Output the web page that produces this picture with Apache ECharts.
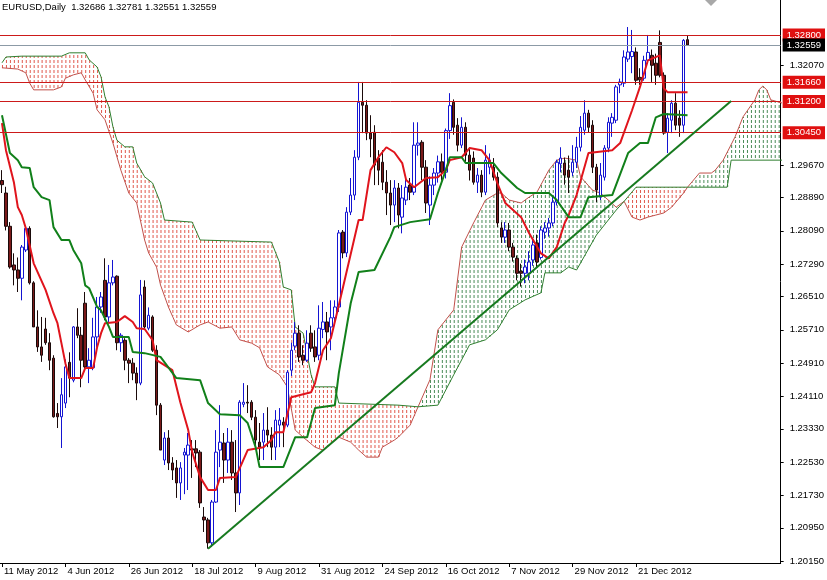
<!DOCTYPE html>
<html><head><meta charset="utf-8">
<script src="https://cdn.jsdelivr.net/npm/echarts@6/dist/echarts.min.js"></script>
<style>html,body{margin:0;padding:0;background:#fff}#c{width:827px;height:580px}</style>
</head><body><div id="c"></div>
<script>
// ---- Candles (index 0 = 11 May 2012, daily bars) ----
const openP = [1.2930,1.2900,1.2820,1.2727,1.2715,1.2695,1.2763,1.2815,1.2684,1.2578,1.2530,1.2573,1.2540,1.2503,1.2370,1.2362,1.2395,1.2493,1.2450,1.2578,1.2558,1.2635,1.2482,1.2480,1.2554,1.2626,1.2690,1.2602,1.2684,1.2700,1.2540,1.2546,1.2498,1.2491,1.2467,1.2443,1.2674,1.2575,1.2602,1.2522,1.2390,1.2258,1.2311,1.2251,1.2239,1.2203,1.2270,1.2270,1.2285,1.2285,1.2277,1.2121,1.2114,1.2059,1.2157,1.2282,1.2299,1.2258,1.2301,1.2227,1.2179,1.2392,1.2397,1.2397,1.2361,1.2301,1.2301,1.2330,1.2318,1.2289,1.2342,1.2349,1.2342,1.2474,1.2532,1.2563,1.2510,1.2498,1.2563,1.2530,1.2510,1.2572,1.2590,1.2578,1.2600,1.2626,1.2806,1.2756,1.2854,1.2895,1.2986,1.3118,1.3111,1.3044,1.3046,1.2984,1.2974,1.2926,1.2900,1.2871,1.2912,1.2842,1.2883,1.2919,1.2902,1.3015,1.3022,1.2962,1.2871,1.2919,1.2948,1.2975,1.2950,1.3050,1.3118,1.3063,1.3015,1.3058,1.2991,1.2984,1.2926,1.2943,1.2902,1.2962,1.2962,1.2938,1.2816,1.2794,1.2811,1.2770,1.2743,1.2712,1.2707,1.2707,1.2739,1.2780,1.2745,1.2806,1.2816,1.2828,1.2878,1.2970,1.2972,1.2955,1.2950,1.2974,1.3010,1.3051,1.3092,1.3063,1.2962,1.2890,1.2938,1.3008,1.3068,1.3075,1.3160,1.3164,1.3222,1.3228,1.3239,1.3178,1.3176,1.3219,1.3231,1.3212,1.3262,1.3183,1.3046,1.3075,1.3116,1.3080,1.3063,1.32686];
const highP = [1.2955,1.2915,1.2830,1.2755,1.2745,1.2775,1.2820,1.2820,1.2688,1.2618,1.2602,1.2600,1.2563,1.2510,1.2395,1.2455,1.2500,1.2517,1.2580,1.2623,1.2578,1.2662,1.2527,1.2600,1.2650,1.2662,1.2743,1.2727,1.2739,1.2702,1.2563,1.2551,1.2503,1.2503,1.2481,1.2691,1.2690,1.2625,1.2606,1.2534,1.2395,1.2325,1.2330,1.2265,1.2258,1.2253,1.2287,1.2323,1.2306,1.2306,1.2282,1.2145,1.2119,1.2162,1.2330,1.2390,1.2323,1.2335,1.2330,1.2306,1.2402,1.2443,1.2438,1.2402,1.2378,1.2347,1.2371,1.2385,1.2337,1.2378,1.2383,1.2361,1.2474,1.2540,1.2590,1.2582,1.2534,1.2570,1.2582,1.2570,1.2630,1.2638,1.2614,1.2642,1.2642,1.2811,1.2811,1.2866,1.2936,1.3003,1.3167,1.3167,1.3123,1.3087,1.3063,1.3003,1.3003,1.2955,1.2931,1.2931,1.2924,1.2919,1.2936,1.2936,1.3070,1.3070,1.3027,1.2979,1.2940,1.2960,1.2990,1.2995,1.3055,1.3140,1.3125,1.3080,1.3082,1.3070,1.3010,1.3000,1.2960,1.2955,1.3015,1.2995,1.2984,1.2950,1.2830,1.2830,1.2828,1.2780,1.2750,1.2730,1.2740,1.2760,1.2790,1.2800,1.2820,1.2830,1.2840,1.2895,1.2980,1.3010,1.2985,1.2990,1.3015,1.3035,1.3085,1.3123,1.3100,1.3075,1.2970,1.2972,1.3015,1.3082,1.3092,1.3160,1.3175,1.3243,1.3299,1.3292,1.3250,1.3200,1.3230,1.3280,1.3245,1.3235,1.3291,1.3190,1.3092,1.3123,1.3140,1.3099,1.3270,1.32781];
const lowP = [1.2900,1.2810,1.2718,1.2678,1.2662,1.2642,1.2758,1.2680,1.2578,1.2518,1.2494,1.2535,1.2474,1.2360,1.2335,1.2287,1.2383,1.2409,1.2445,1.2551,1.2433,1.2474,1.2443,1.2474,1.2530,1.2612,1.2594,1.2590,1.2678,1.2522,1.2518,1.2474,1.2443,1.2450,1.2402,1.2438,1.2575,1.2570,1.2518,1.2366,1.2282,1.2246,1.2234,1.2210,1.2167,1.2162,1.2176,1.2186,1.2215,1.2241,1.2143,1.2085,1.2045,1.2049,1.2155,1.2241,1.2203,1.2227,1.2210,1.2133,1.2150,1.2385,1.2371,1.2354,1.2289,1.2258,1.2258,1.2289,1.2258,1.2258,1.2289,1.2289,1.2337,1.2460,1.2522,1.2494,1.2486,1.2494,1.2518,1.2494,1.2498,1.2551,1.2498,1.2522,1.2580,1.2614,1.2743,1.2746,1.2847,1.2883,1.2979,1.3044,1.3027,1.2986,1.2919,1.2919,1.2907,1.2847,1.2823,1.2830,1.2815,1.2803,1.2871,1.2883,1.2895,1.2990,1.2931,1.2852,1.2823,1.2895,1.2925,1.2930,1.2935,1.3030,1.3040,1.3000,1.3008,1.2975,1.2930,1.2920,1.2900,1.2890,1.2895,1.2945,1.2930,1.2818,1.2780,1.2780,1.2760,1.2735,1.2690,1.2675,1.2683,1.2690,1.2725,1.2720,1.2740,1.2790,1.2795,1.2820,1.2870,1.2950,1.2920,1.2900,1.2940,1.2960,1.3000,1.3040,1.3046,1.2948,1.2878,1.2883,1.2930,1.2998,1.3035,1.3068,1.3140,1.3155,1.3215,1.3188,1.3160,1.3160,1.3170,1.3210,1.3167,1.3160,1.3178,1.3040,1.2996,1.3044,1.3051,1.3035,1.3044,1.32551];
const closeP = [1.2920,1.2820,1.2722,1.2715,1.2695,1.2770,1.2815,1.2684,1.2578,1.2530,1.2510,1.2540,1.2498,1.2362,1.2362,1.2415,1.2482,1.2455,1.2578,1.2558,1.2498,1.2482,1.2498,1.2554,1.2626,1.2650,1.2602,1.2684,1.2698,1.2540,1.2558,1.2498,1.2491,1.2467,1.2443,1.2655,1.2578,1.2606,1.2522,1.2390,1.2282,1.2311,1.2251,1.2234,1.2203,1.2239,1.2277,1.2294,1.2282,1.2275,1.2155,1.2114,1.2059,1.2157,1.2277,1.2301,1.2258,1.2301,1.2227,1.2179,1.2397,1.2397,1.2395,1.2361,1.2306,1.2289,1.2330,1.2318,1.2289,1.2354,1.2354,1.2342,1.2469,1.2522,1.2563,1.2506,1.2498,1.2539,1.2527,1.2506,1.2575,1.2590,1.2566,1.2600,1.2626,1.2804,1.2756,1.2854,1.2895,1.2986,1.3118,1.3111,1.3044,1.3030,1.2967,1.2955,1.2926,1.2900,1.2871,1.2912,1.2847,1.2888,1.2914,1.2902,1.3015,1.3020,1.2962,1.2876,1.2919,1.2948,1.2975,1.2950,1.3050,1.3110,1.3058,1.3015,1.3058,1.2991,1.2955,1.2926,1.2943,1.2902,1.2979,1.2979,1.2938,1.2828,1.2794,1.2811,1.2770,1.2746,1.2707,1.2707,1.2722,1.2734,1.2775,1.2734,1.2811,1.2816,1.2828,1.2878,1.2974,1.2984,1.2943,1.2938,1.2974,1.3010,1.3058,1.3092,1.3058,1.2962,1.2907,1.2943,1.3008,1.3070,1.3082,1.3155,1.3167,1.3227,1.3239,1.3240,1.3171,1.3172,1.3219,1.3238,1.3207,1.3183,1.3183,1.3044,1.3080,1.3116,1.3063,1.3063,1.3267,1.32559];

// ---- Ichimoku lines, read as [bar index, price] turning points ----
const tenkan = [[0,1.3068],[1,1.3003],[3,1.2926],[4,1.2866],[5,1.2847],[6,1.2816],[8,1.2731],[11,1.2667],[13,1.2611],[14,1.2587],[15,1.2539],[16,1.2491],[17,1.2455],[20,1.2455],[21,1.2479],[23,1.2479],[24,1.2529],[25,1.2563],[26,1.2587],[29,1.2590],[31,1.2604],[33,1.2590],[34,1.2575],[36,1.2573],[38,1.2546],[39,1.2498],[43,1.2474],[45,1.2397],[47,1.2330],[48,1.2277],[50,1.2217],[52,1.2186],[54,1.2186],[55,1.2215],[59,1.2217],[62,1.2282],[66,1.2289],[68,1.2306],[69,1.2325],[71,1.2325],[73,1.2409],[78,1.2421],[79,1.2443],[81,1.2522],[83,1.2551],[85,1.2630],[90,1.2835],[91,1.2835],[93,1.2955],[95,1.2986],[97,1.3010],[99,1.2998],[101,1.2972],[102,1.2931],[104,1.2914],[107,1.2936],[110,1.2938],[112,1.2955],[113,1.2979],[116,1.2986],[118,1.3008],[121,1.3003],[123,1.2979],[125,1.2924],[127,1.2876],[131,1.2842],[133,1.2804],[136,1.2755],[138,1.2743],[140,1.2770],[142,1.2828],[143,1.2847],[145,1.2895],[148,1.2996],[154,1.3003],[156,1.3020],[159,1.3099],[161,1.3155],[163,1.3219],[166,1.3231],[167,1.3152],[168,1.3142],[173,1.3142]];
const kijun = [[0,1.3087],[2,1.2996],[4,1.2979],[5,1.2962],[7,1.2960],[8,1.2914],[10,1.2890],[12,1.2883],[13,1.2818],[15,1.2787],[17,1.2787],[18,1.2763],[20,1.2731],[21,1.2678],[22,1.2671],[24,1.2626],[25,1.2618],[27,1.2578],[28,1.2554],[32,1.2554],[33,1.2518],[36,1.2515],[40,1.2506],[44,1.2455],[50,1.2450],[52,1.2395],[55,1.2368],[60,1.2366],[62,1.2347],[64,1.2289],[65,1.2241],[71,1.2241],[74,1.2313],[77,1.2313],[79,1.2383],[84,1.2390],[85,1.2467],[88,1.2635],[90,1.2710],[94,1.2715],[98,1.2794],[99,1.2818],[103,1.2830],[108,1.2837],[110,1.2900],[112,1.2955],[113,1.2986],[116,1.2986],[117,1.2972],[124,1.2972],[126,1.2948],[130,1.2912],[132,1.2900],[138,1.2900],[140,1.2883],[143,1.2842],[146,1.2842],[148,1.2890],[154,1.2895],[158,1.2996],[161,1.3020],[163,1.3020],[165,1.3082],[167,1.3090],[173,1.3087]];
const spanA = [[0,1.3201],[4,1.3198],[6,1.3189],[7,1.3164],[8,1.3148],[13,1.3148],[15,1.3155],[16,1.3176],[18,1.3184],[20,1.3189],[21,1.3172],[23,1.3140],[24,1.3100],[26,1.3076],[28,1.3020],[30,1.2955],[32,1.2900],[34,1.2876],[36,1.2787],[37,1.2756],[39,1.2722],[40,1.2679],[42,1.2626],[44,1.2583],[47,1.2566],[50,1.2583],[52,1.2590],[55,1.2575],[58,1.2578],[60,1.2547],[63,1.2539],[65,1.2528],[67,1.2482],[70,1.2463],[72,1.2434],[74,1.2330],[76,1.2313],[79,1.2289],[81,1.2282],[85,1.2313],[88,1.2301],[90,1.2282],[92,1.2265],[95,1.2265],[96,1.2289],[99,1.2306],[100,1.2313],[103,1.2342],[105,1.2386],[108,1.2451],[110,1.2571],[114,1.2619],[116,1.2770],[119,1.2828],[122,1.2883],[125,1.2900],[126,1.2900],[128,1.2883],[131,1.2876],[133,1.2890],[135,1.2902],[138,1.2955],[140,1.2979],[142,1.2984],[145,1.2979],[146,1.2939],[149,1.2907],[151,1.2900],[155,1.2866],[157,1.2880],[159,1.2842],[161,1.2835],[163,1.2842],[165,1.2847],[167,1.2852],[169,1.2866],[172,1.2900],[173,1.2914],[176,1.2948],[179,1.2948],[180,1.2955],[182,1.2979],[185,1.3035],[187,1.3083],[190,1.3124],[191,1.3148],[192,1.3157],[193,1.3148],[194,1.3124],[197,1.3116]];
const spanB = [[0,1.3213],[1,1.3227],[5,1.3229],[15,1.3229],[17,1.3237],[21,1.3237],[22,1.3220],[24,1.3203],[25,1.3179],[26,1.3131],[27,1.3107],[28,1.3059],[29,1.3027],[31,1.3011],[33,1.3011],[34,1.2972],[36,1.2939],[38,1.2924],[40,1.2876],[41,1.2835],[48,1.2830],[50,1.2787],[68,1.2782],[70,1.2734],[71,1.2674],[73,1.2667],[74,1.2578],[76,1.2563],[78,1.2463],[79,1.2434],[84,1.2434],[85,1.2395],[100,1.2390],[105,1.2386],[110,1.2390],[114,1.2463],[118,1.2535],[122,1.2547],[125,1.2571],[128,1.2619],[132,1.2643],[136,1.2660],[137,1.2708],[141,1.2708],[143,1.2722],[145,1.2715],[150,1.2799],[155,1.2859],[157,1.2880],[160,1.2914],[173,1.2914],[183,1.2914],[184,1.2979],[197,1.2979]];
// cloud pieces between span A and span B: [from, to, kind]
const cloudSegments = [[0,105,'bear'],[105,157,'bull'],[157,173,'bear'],[173,197,'bull']];

// ---- Drawn objects ----
const levels = [1.32800, 1.31660, 1.31200, 1.30450];
const bidPrice = 1.32559;
const trendLine = [[52,1.2045],[184,1.3121]];

// ---- Axis texts ----
const xTickLabels = ['11 May 2012','4 Jun 2012','26 Jun 2012','18 Jul 2012','9 Aug 2012','31 Aug 2012','24 Sep 2012','16 Oct 2012','7 Nov 2012','29 Nov 2012','21 Dec 2012'];
const xTickStep = 16;
const yTickValues = [1.32070,1.29670,1.28890,1.28090,1.27290,1.26510,1.25710,1.24910,1.24110,1.23330,1.22530,1.21730,1.20950,1.20150];
const header = 'EURUSD,Daily  1.32686 1.32781 1.32551 1.32559';
const barCount = 197;

const FONT = "'Liberation Sans', Arial, sans-serif";
const categories = Array.from({length: barCount}, (_, i) => String(i));
const candles = openP.map((o, i) => [o, closeP[i], lowP[i], highP[i]]);

// y of a polyline (pixel points sorted by x) at pixel column x
function yOnPath(pts, x) {
  if (x <= pts[0][0]) return pts[0][1];
  for (let j = 0; j < pts.length - 1; j++) {
    const a = pts[j], b = pts[j + 1];
    if (x >= a[0] && x <= b[0]) return b[0] === a[0] ? a[1] : a[1] + (b[1] - a[1]) * (x - a[0]) / (b[0] - a[0]);
  }
  return pts[pts.length - 1][1];
}

const chart = echarts.init(document.getElementById('c'), null, {renderer: 'canvas'});
chart.setOption({
  animation: false,
  backgroundColor: '#ffffff',
  title: {text: header, left: 2, top: 2, padding: 0,
    textStyle: {fontSize: 9.5, fontWeight: 'normal', color: '#000', fontFamily: FONT}},
  grid: {left: -3, right: 42, top: 0, bottom: 17, containLabel: false},
  xAxis: {
    type: 'category', data: categories, boundaryGap: true,
    axisLine: {show: true, lineStyle: {color: '#000', width: 1}},
    axisTick: {show: true, alignWithLabel: true, length: 4, lineStyle: {color: '#000'},
      interval: (i) => i % xTickStep === 0 && i / xTickStep < xTickLabels.length},
    axisLabel: {show: true, interval: (i) => i % xTickStep === 0 && i / xTickStep < xTickLabels.length,
      formatter: (v) => xTickLabels[Math.round(Number(v) / xTickStep)] || '',
      align: 'left', margin: 3, padding: [0, 0, 0, 2], color: '#000', fontSize: 9.5, fontFamily: FONT},
    splitLine: {show: false}
  },
  yAxis: {
    type: 'value', position: 'right', min: 1.20105, max: 1.33640, scale: true,
    axisLine: {show: true, lineStyle: {color: '#000', width: 1}},
    axisTick: {show: true, length: 3, inside: false, lineStyle: {color: '#000'}, customValues: yTickValues},
    axisLabel: {show: true, customValues: yTickValues, formatter: (v) => Number(v).toFixed(5),
      margin: 9, color: '#000', fontSize: 9.5, fontFamily: FONT},
    splitLine: {show: false}
  },
  series: [
    {
      type: 'custom', name: 'cloud', z: 1, clip: true, silent: true,
      data: cloudSegments.map(s => [s[0], s[1]]),
      encode: {x: [0, 1]},
      renderItem: (params, api) => {
        const seg = cloudSegments[params.dataIndex];
        const pa = spanA.filter(p => p[0] >= seg[0] && p[0] <= seg[1]).map(p => api.coord(p));
        const pb = spanB.filter(p => p[0] >= seg[0] && p[0] <= seg[1]).map(p => api.coord(p));
        const color = seg[2] === 'bear' ? '#e0584c' : '#4a8c58';
        const children = [];
        for (let k = seg[0]; k <= seg[1]; k++) {
          const x = api.coord([k, spanA[0][1]])[0];
          const ya = yOnPath(pa, x), yb = yOnPath(pb, x);
          const y1 = Math.round(Math.min(ya, yb)), y2 = Math.round(Math.max(ya, yb));
          if (y2 - y1 < 2) continue;
          children.push({type: 'line', shape: {x1: x + 0.5, y1: y1, x2: x + 0.5, y2: y2},
            style: {stroke: color, lineWidth: 1, lineDash: [3, 2], lineDashOffset: y1 % 5}});
        }
        return {type: 'group', children: children};
      }
    },
    {type: 'line', name: 'spanA', data: spanA, z: 2, showSymbol: false, symbol: 'none',
      lineStyle: {color: '#c0504a', width: 1}, silent: true},
    {type: 'line', name: 'spanB', data: spanB, z: 2, showSymbol: false, symbol: 'none',
      lineStyle: {color: '#2f7f2f', width: 1}, silent: true},
    {
      type: 'candlestick', name: 'EURUSD', data: candles, z: 3, barWidth: 3,
      itemStyle: {color: '#ffffff', color0: '#7a1a1a', borderColor: '#1414d2', borderColor0: '#1a0a0a', borderWidth: 1}
    },
    {type: 'line', name: 'tenkan', data: tenkan, z: 4, showSymbol: false, symbol: 'none',
      lineStyle: {color: '#e0141c', width: 2}, silent: true},
    {type: 'line', name: 'kijun', data: kijun, z: 4, showSymbol: false, symbol: 'none',
      lineStyle: {color: '#11801a', width: 2}, silent: true},
    {type: 'line', name: 'trend', data: trendLine, z: 7, showSymbol: false, symbol: 'none',
      lineStyle: {color: '#177a1f', width: 2}, silent: true,
      markLine: {
        silent: true, symbol: ['none', 'none'], animation: false, precision: 5,
        data: levels.map(v => ({yAxis: v, lineStyle: {color: '#cc1a1a', width: 1, type: 'solid'},
          label: {show: true, position: 'end', distance: 2, formatter: v.toFixed(5), color: '#fff',
            backgroundColor: '#e01010', padding: [2, 4, 1, 4], fontSize: 9.5, fontFamily: FONT}}))
          .concat([{yAxis: bidPrice, lineStyle: {color: '#8c9aa6', width: 1, type: 'solid'},
            label: {show: true, position: 'end', distance: 2, formatter: bidPrice.toFixed(5), color: '#fff',
              backgroundColor: '#000', padding: [2, 4, 1, 4], fontSize: 9.5, fontFamily: FONT}}])
      }}
  ],
  graphic: [{type: 'polygon', shape: {points: [[705, 0], [717, 0], [711, 6]]}, style: {fill: '#a8a8a8'}, z: 10}]
});
</script></body></html>
